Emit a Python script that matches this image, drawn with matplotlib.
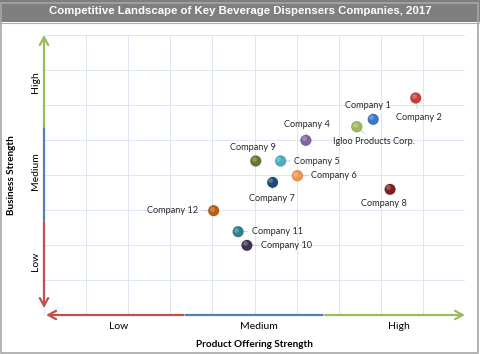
import matplotlib.pyplot as plt
from matplotlib.patches import Rectangle
from matplotlib.lines import Line2D

# Data (product offering strength, business strength)
companies = ['Company 1', 'Company 2', 'Igloo Products Corp.', 'Company 4', 'Company 9',
             'Company 5', 'Company 6', 'Company 7', 'Company 8', 'Company 12',
             'Company 11', 'Company 10']
product_strength = [7.82, 8.83, 7.43, 6.22, 5.03, 5.62, 6.02, 5.43, 8.22, 4.03, 4.61, 4.82]
business_strength = [5.59, 6.20, 5.38, 4.99, 4.40, 4.40, 3.98, 3.79, 3.59, 2.98, 2.38, 1.99]
colors = ['#3a78c8', '#d23a3a', '#9bbb59', '#8064a2', '#5f7a2a', '#4bacc6', '#f79646',
          '#1f497d', '#7f1f1f', '#c55a11', '#2f7f8f', '#403152']
levels = ['Low', 'Medium', 'High']

# label placement (offset points, alignment)
label_pos = {
    'Company 1': ((-3.5, 10), 'center'),
    'Company 2': ((2, -14), 'center'),
    'Igloo Products Corp.': ((12, -11), 'center'),
    'Company 4': ((0.5, 11.5), 'center'),
    'Company 9': ((-2, 10), 'center'),
    'Company 5': ((10, 0), 'left'),
    'Company 6': ((10, 0), 'left'),
    'Company 7': ((-0.5, -11.5), 'center'),
    'Company 8': ((-4.5, -10), 'center'),
    'Company 12': ((-11, 0), 'right'),
    'Company 11': ((10, 0), 'left'),
    'Company 10': ((10, 0), 'left'),
}

red, blue, green = '#c0504d', '#4f81bd', '#9bbb59'

fig = plt.figure(figsize=(4.8, 3.54), dpi=100)
fig.patch.set_facecolor('white')

# title bar and frame
fig.patches.append(Rectangle((0, 1 - 22 / 354), 1, 22 / 354, transform=fig.transFigure,
                             facecolor='#7f7f7f', edgecolor='none'))
fig.lines.append(Line2D([0, 1], [1 - 23 / 354] * 2, transform=fig.transFigure,
                        color='#95b3d7', lw=0.8))
fig.patches.append(Rectangle((0.002, 0.002), 0.994, 0.99, transform=fig.transFigure,
                             facecolor='none', edgecolor='#a6a6a6', lw=1.2))
fig.text(0.5, 1 - 11 / 354, 'Competitive Landscape of Key Beverage Dispensers Companies, 2017',
         ha='center', va='center', color='white', fontsize=8.2, fontweight='bold',
         family='Liberation Sans')

ax = fig.add_axes([44 / 480, 1 - 315 / 354, 421 / 480, 280 / 354])
ax.set_xlim(0, 10)
ax.set_ylim(0, 8)
ax.set_xticks(range(0, 11))
ax.set_yticks(range(0, 9))
ax.tick_params(length=0, labelbottom=False, labelleft=False)
ax.grid(True, color='#dce6f2', lw=0.7)
for s in ax.spines.values():
    s.set_visible(False)
ax.axvline(10, color='#dce6f2', lw=0.7)
ax.axhline(8, color='#dce6f2', lw=0.7)

def arrow(p0, p1, c, head=True):
    ax.annotate('', xy=p1, xytext=p0, xycoords='data',
                arrowprops=dict(arrowstyle='->,head_width=0.3,head_length=0.55' if head else '-',
                                color=c, lw=1.6, shrinkA=0, shrinkB=0),
                annotation_clip=False)

# x axis
arrow((3.31, 0), (0.05, 0), red)
arrow((3.36, 0), (6.62, 0), blue, head=False)
arrow((6.68, 0), (10, 0), green)
# y axis
arrow((0, 2.66), (0, 0.2), red)
arrow((0, 2.7), (0, 5.35), blue, head=False)
arrow((0, 5.38), (0, 8), green)

lab_font = dict(family='Lato', fontsize=7.5, color='black')
for i, lv in enumerate(levels):
    ax.text(10 / 3 * (i + 0.5) + 0.1, -0.33, lv, ha='center', va='center', **lab_font)
    ax.text(-0.2, 8 / 3 * (i + 0.5) + 0.2 - 0.1 * i, lv, ha='center', va='center',
            rotation=90, **lab_font)

ax.text(5.0, -0.83, 'Product Offering Strength', ha='center', va='center',
        family='Lato', fontsize=7.2, fontweight='bold')
ax.text(-0.77, 4.0, 'Business Strength', ha='center', va='center', rotation=90,
        family='Lato', fontsize=7.2, fontweight='bold')

ax.scatter(product_strength, business_strength, s=60, c=colors, zorder=4,
           edgecolors='#00000033', linewidths=0.6, clip_on=False)
# small highlight for the glossy look
ax.scatter([x - 0.05 for x in product_strength], [y + 0.06 for y in business_strength],
           s=12, c='white', alpha=0.25, zorder=5, linewidths=0)

for name, x, y in zip(companies, product_strength, business_strength):
    off, ha = label_pos[name]
    ax.annotate(name, (x, y), xytext=off, textcoords='offset points', ha=ha, va='center',
                family='Lato', fontsize=6.6, color='#262626', zorder=3,
                arrowprops=dict(arrowstyle='-', color='#b8cce4', lw=0.6,
                                shrinkA=1, shrinkB=0))

fig.savefig('out.png', dpi=100)
